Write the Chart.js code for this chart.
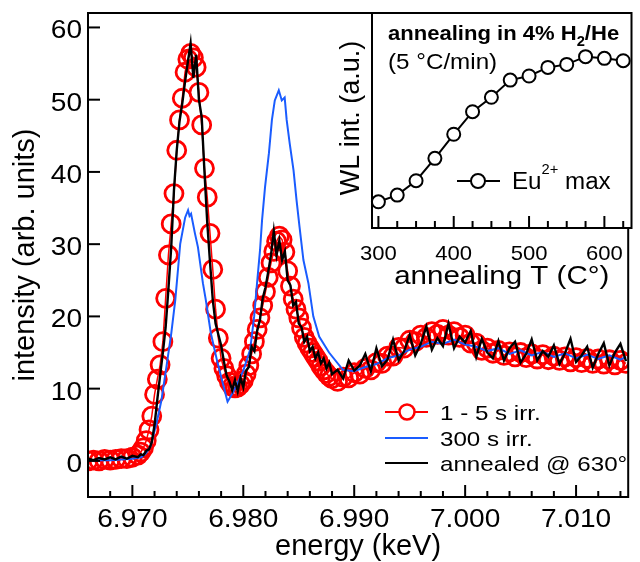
<!DOCTYPE html>
<html>
<head>
<meta charset="utf-8">
<script src="https://cdn.jsdelivr.net/npm/chart.js@4.4.1/dist/chart.umd.min.js"></script>
<style>
  body { margin: 0; background: #fff; }
  #wrap { position: relative; width: 640px; height: 562px; background: #fff; }
  canvas { position: absolute; top: 0; }
</style>
</head>
<body>
<div id="wrap">
  <canvas id="main" width="640" height="562" style="left:0"></canvas>
  <canvas id="inset" width="340" height="300" style="left:300px"></canvas>
</div>
<script>
// energy grid (keV) shared by the red and black spectra
const energy = [
  6.9660, 6.9665, 6.9670, 6.9675, 6.9680, 6.9685, 6.9690, 6.9695, 6.9700, 6.9705,
  6.97075, 6.9710, 6.97125, 6.9715, 6.97175, 6.9720, 6.97225, 6.9725, 6.97275, 6.9730,
  6.97325, 6.9735, 6.97375, 6.9740, 6.97425, 6.9745, 6.97475, 6.9750, 6.97525, 6.9755,
  6.97575, 6.9760, 6.97625, 6.9765, 6.97675, 6.9770, 6.97725, 6.9775, 6.97775, 6.9780,
  6.97825, 6.9785, 6.97875, 6.9790, 6.97925, 6.9795, 6.97975, 6.9800, 6.98025, 6.9805,
  6.98075, 6.9810, 6.98125, 6.9815, 6.98175, 6.9820, 6.98225, 6.9825, 6.98275, 6.9830,
  6.98325, 6.9835, 6.98375, 6.9840, 6.98425, 6.9845, 6.98475, 6.9850, 6.98525, 6.9855,
  6.98575, 6.9860, 6.98625, 6.9865, 6.98675, 6.9870, 6.98725, 6.9875, 6.98775, 6.9880,
  6.9885, 6.9890, 6.9895, 6.9900, 6.9905, 6.9910, 6.9915, 6.9920, 6.9925, 6.9930,
  6.9935, 6.9940, 6.9945, 6.9950, 6.9955, 6.9960, 6.9965, 6.9970, 6.9975, 6.9980,
  6.9985, 6.9990, 6.9995, 7.0000, 7.0005, 7.0010, 7.0015, 7.0020, 7.0025, 7.0030,
  7.0035, 7.0040, 7.0045, 7.0050, 7.0055, 7.0060, 7.0065, 7.0070, 7.0075, 7.0080,
  7.0085, 7.0090, 7.0095, 7.0100, 7.0105, 7.0110, 7.0115, 7.0120, 7.0125, 7.0130,
  7.0135, 7.0140, 7.0145
];

// 1 - 5 s irr. (red circles)
const irrShort = [
  0.0, 0.1, 0.0, 0.2, 0.1, 0.2, 0.3, 0.3, 0.5, 0.8,
  1.2, 1.8, 2.8, 4.3, 6.2, 9.2, 11.3, 13.3, 16.5, 22.5,
  28.5, 32.8, 37.0, 43.0, 47.2, 50.2, 53.8, 55.6, 56.4, 55.8,
  54.5, 51.0, 46.5, 40.5, 36.5, 31.5, 26.5, 21.0, 17.0, 14.2,
  12.8, 11.8, 10.9, 10.3, 10.1, 10.2, 10.6, 11.1, 12.0, 13.2,
  14.8, 16.5, 18.2, 19.8, 21.5, 23.4, 25.4, 27.4, 29.0, 30.4,
  31.1, 30.6, 28.9, 26.3, 24.2, 22.4, 21.0, 19.8, 18.4, 17.1,
  16.3, 15.6, 15.0, 14.4, 13.8, 13.1, 12.6, 12.1, 11.7, 11.4,
  11.0, 11.6, 11.5, 12.2, 12.0, 12.8, 12.6, 13.6, 13.5, 14.5,
  14.5, 15.7, 15.6, 16.7, 16.5, 17.4, 17.1, 17.9, 17.5, 18.2,
  17.4, 17.9, 17.1, 17.4, 16.3, 16.3, 15.3, 15.6, 14.9, 15.3,
  14.6, 15.1, 14.4, 15.0, 14.3, 14.8, 14.1, 14.7, 14.0, 14.5,
  13.9, 14.4, 13.7, 14.3, 13.6, 14.2, 13.5, 14.1, 13.4, 14.0,
  13.3, 13.9, 13.5
];

// annealed @ 630° (black)
const annealed = [
  0.3, 0.1, 0.4, 0.2, 0.5, 0.2, 0.6, 0.3, 0.7, 0.5,
  0.9, 0.8, 1.4, 1.6, 2.6, 5.0, 8.5, 11.8, 15.0, 18.5,
  23.8, 29.5, 37.5, 43.0, 47.0, 49.5, 52.5, 55.2, 57.8, 53.0,
  56.2, 50.0, 47.6, 40.0, 33.0, 27.5, 22.3, 19.0, 17.5, 16.0,
  13.8, 11.8, 11.0, 9.8, 11.2, 9.6, 11.5, 10.2, 12.5, 13.0,
  15.8, 15.2, 18.0, 19.5, 22.5, 24.0, 26.2, 28.5, 31.8, 28.5,
  30.5, 27.8, 29.0, 25.0, 24.3, 21.5, 22.0, 19.0, 18.5, 16.5,
  17.2, 15.2, 15.8, 14.2, 15.0, 13.5, 14.2, 12.8, 13.6, 12.0,
  12.6, 11.4, 13.9, 12.5, 13.2, 14.8, 12.4, 15.6, 13.1, 14.0,
  16.8, 13.9, 15.2, 17.4, 14.6, 16.2, 18.6, 15.4, 17.0, 15.9,
  19.0, 15.6, 17.2, 16.4, 18.0, 14.4, 16.9, 15.0, 14.2, 16.6,
  13.9, 15.6, 16.5, 13.6, 14.8, 16.8, 13.9, 15.2, 14.4, 16.0,
  13.4, 14.9, 16.9, 13.7, 14.6, 15.8, 12.9, 14.8, 16.3, 13.2,
  15.0, 16.2, 13.8
];

// 300 s irr. (blue), its own energy points
const energyBlue = [
  6.9660, 6.9680, 6.9700, 6.9708, 6.9712, 6.97164, 6.97218, 6.97262, 6.97307, 6.97351,
  6.97387, 6.97413, 6.97431, 6.97476, 6.97502, 6.97515, 6.97529, 6.97564, 6.97591, 6.97636,
  6.97662, 6.97707, 6.97769, 6.97831, 6.97858, 6.9790, 6.9795, 6.9800, 6.98062, 6.98098,
  6.98124, 6.98151, 6.98169, 6.98196, 6.98231, 6.98258, 6.98284, 6.9832, 6.98347, 6.98373,
  6.98391, 6.98418, 6.98453, 6.9848, 6.98507, 6.98542, 6.98587, 6.98631, 6.98684, 6.98773,
  6.98898, 6.9900, 6.9910, 6.9920, 6.9930, 6.9940, 6.9950, 6.9960, 6.9970, 6.9980,
  6.9990, 7.0000, 7.0010, 7.0020, 7.0030, 7.0040, 7.0050, 7.0060, 7.0070, 7.0080,
  7.0090, 7.0100, 7.0110, 7.0120, 7.0130, 7.0140, 7.0145
];
const irrLong = [
  0.1, 0.1, 0.3, 0.5, 1.0, 2.0, 5.2, 8.4, 13.0, 17.7,
  22.3, 26.8, 30.0, 33.7, 34.7, 33.9, 34.2, 31.5, 29.6, 24.6,
  22.3, 17.7, 13.5, 9.8, 8.2, 9.3, 10.8, 12.5, 15.4, 20.0,
  24.6, 29.2, 33.3, 37.9, 42.6, 47.2, 49.9, 51.3, 49.9, 50.3,
  47.2, 44.0, 40.2, 36.1, 32.4, 27.8, 24.6, 20.0, 17.2, 15.0,
  12.6, 12.4, 13.0, 13.4, 14.2, 14.6, 15.4, 15.8, 16.5, 16.2,
  16.8, 16.1, 15.8, 15.2, 15.6, 14.8, 15.3, 14.6, 15.1, 14.4,
  14.9, 14.2, 14.7, 14.1, 14.6, 14.0, 14.4
];

const seriesLabels = ['1 - 5 s irr.', '300 s irr.', 'annealed @ 630°'];
const xMajorTicks = [6.970, 6.980, 6.990, 7.000, 7.010];
const xMinorTicks = [6.966, 6.968, 6.970, 6.972, 6.974, 6.976, 6.978, 6.980, 6.982, 6.984,
  6.986, 6.988, 6.990, 6.992, 6.994, 6.996, 6.998, 7.000, 7.002, 7.004, 7.006, 7.008,
  7.010, 7.012, 7.014];
const yTicks = [0, 10, 20, 30, 40, 50, 60];

// inset: WL intensity vs annealing temperature
const annealT = [300, 325, 350, 375, 400, 425, 450, 475, 500, 525, 550, 575, 600, 625];
const wlInt = [12.2, 15.3, 22.0, 32.4, 43.6, 54.1, 60.8, 68.8, 70.7, 74.7, 76.1, 79.7, 78.9, 77.8];
const insetMajorTicks = [300, 400, 500, 600];
const insetMinorTicks = [300, 325, 350, 375, 400, 425, 450, 475, 500, 525, 550, 575, 600, 625];

const FONT = '"Liberation Sans", Arial, Helvetica, sans-serif';
Chart.defaults.font.family = FONT;
Chart.defaults.color = '#000';

const pts = (xs, ys) => xs.map((x, i) => ({ x: x, y: ys[i] }));

function line(ctx, x1, y1, x2, y2) {
  ctx.beginPath();
  ctx.moveTo(x1, y1);
  ctx.lineTo(x2, y2);
  ctx.stroke();
}

// text with optional horizontal stretch and rotation, baseline at (x, y)
function label(ctx, str, x, y, font, align, sx, rot) {
  ctx.save();
  ctx.translate(x, y);
  if (rot) ctx.rotate(rot);
  ctx.scale(sx || 1, 1);
  ctx.font = font;
  ctx.textAlign = align;
  ctx.textBaseline = 'alphabetic';
  ctx.fillStyle = '#000';
  ctx.fillText(str, 0, 0);
  ctx.restore();
}

// frame, inward ticks, tick labels, axis titles and legend of the main plot
const mainDeco = {
  id: 'mainDeco',
  afterDraw(chart) {
    const { ctx, chartArea: a, scales: { x, y } } = chart;
    ctx.save();
    ctx.strokeStyle = '#000';
    ctx.lineWidth = 2;
    ctx.strokeRect(a.left, a.top, a.right - a.left, a.bottom - a.top);
    xMinorTicks.forEach(v => {
      const px = x.getPixelForValue(v);
      const major = xMajorTicks.some(m => Math.abs(m - v) < 1e-6);
      line(ctx, px, a.bottom, px, a.bottom - (major ? 12 : 6));
    });
    yTicks.forEach(v => {
      const py = y.getPixelForValue(v);
      line(ctx, a.left, py, a.left + 12, py);
    });

    const tickFont = '26px ' + FONT;
    xMajorTicks.forEach(v => label(ctx, v.toFixed(3), x.getPixelForValue(v), 527, tickFont, 'center', 1.08));
    yTicks.forEach(v => label(ctx, String(v), 82, y.getPixelForValue(v) + 11, tickFont, 'right', 1.08));

    label(ctx, 'energy (keV)', (a.left + a.right) / 2, 555, '29px ' + FONT, 'center', 1);
    label(ctx, 'intensity (arb. units)', 34, (a.top + a.bottom) / 2, '29px ' + FONT, 'center', 1, -Math.PI / 2);

    // legend
    const rows = [412, 438, 463];
    const colors = ['#ff0000', '#1a5cff', '#000000'];
    rows.forEach((ry, i) => {
      ctx.strokeStyle = colors[i];
      ctx.lineWidth = 2;
      line(ctx, 385, ry, 428, ry);
      if (i === 0) {
        ctx.beginPath();
        ctx.arc(407, ry, 7.5, 0, Math.PI * 2);
        ctx.fillStyle = '#fff';
        ctx.fill();
        ctx.lineWidth = 2.5;
        ctx.stroke();
      }
      label(ctx, seriesLabels[i], 440, ry + 7.5, '21px ' + FONT, 'left', 1.15);
    });
    ctx.restore();
  }
};

new Chart(document.getElementById('main'), {
  type: 'line',
  data: {
    datasets: [
      {
        label: seriesLabels[0],
        data: pts(energy, irrShort),
        borderColor: '#ff0000',
        borderWidth: 1.5,
        pointRadius: 9,
        pointBorderWidth: 2.8,
        pointBorderColor: '#ff0000',
        pointBackgroundColor: 'rgba(0,0,0,0)',
        clip: 0,
        order: 3
      },
      {
        label: seriesLabels[1],
        data: pts(energyBlue, irrLong),
        borderColor: '#1a5cff',
        borderWidth: 2,
        pointRadius: 0,
        clip: 0,
        order: 2
      },
      {
        label: seriesLabels[2],
        data: pts(energy, annealed),
        borderColor: '#000000',
        borderWidth: 2.4,
        pointRadius: 0,
        clip: 0,
        order: 1
      }
    ]
  },
  options: {
    responsive: false,
    animation: false,
    events: [],
    layout: { padding: { top: 13, right: 4, left: 0, bottom: 0 } },
    plugins: { legend: { display: false }, tooltip: { enabled: false } },
    scales: {
      x: {
        type: 'linear',
        min: 6.966,
        max: 7.0147,
        grid: { display: false, drawTicks: false },
        border: { display: false },
        ticks: { display: false },
        afterFit: s => { s.height = 65; }
      },
      y: {
        type: 'linear',
        min: -5,
        max: 62,
        grid: { display: false, drawTicks: false },
        border: { display: false },
        ticks: { display: false },
        afterFit: s => { s.width = 88; }
      }
    }
  },
  plugins: [mainDeco]
});

// inset decorations
const insetDeco = {
  id: 'insetDeco',
  beforeDraw(chart) {
    const { ctx, chartArea: a } = chart;
    ctx.save();
    ctx.fillStyle = '#fff';
    ctx.fillRect(a.left, a.top, a.right - a.left, a.bottom - a.top);
    ctx.restore();
  },
  afterDraw(chart) {
    const { ctx, chartArea: a, scales: { x } } = chart;
    ctx.save();
    ctx.strokeStyle = '#000';
    ctx.lineWidth = 2;
    ctx.strokeRect(a.left, a.top, a.right - a.left, a.bottom - a.top);
    insetMinorTicks.forEach(v => {
      const px = x.getPixelForValue(v);
      const major = insetMajorTicks.includes(v);
      line(ctx, px, a.bottom, px, a.bottom - (major ? 12 : 7));
    });
    insetMajorTicks.forEach(v => label(ctx, String(v), x.getPixelForValue(v), 260, '21px ' + FONT, 'center', 1.05));

    label(ctx, 'annealing T (C°)', (a.left + a.right) / 2, 284, '25px ' + FONT, 'center', 1.18);
    label(ctx, 'WL int. (a.u.)', 59, 118, '27px ' + FONT, 'center', 1, -Math.PI / 2);

    // header text
    let tx = 88;
    const hdr = 'bold 21px ' + FONT;
    ctx.font = hdr;
    label(ctx, 'annealing in 4% H', tx, 40, hdr, 'left', 1.05);
    tx += ctx.measureText('annealing in 4% H').width * 1.05;
    ctx.font = 'bold 14px ' + FONT;
    label(ctx, '2', tx, 46, 'bold 14px ' + FONT, 'left', 1.05);
    tx += ctx.measureText('2').width * 1.05;
    label(ctx, '/He', tx, 40, hdr, 'left', 1.05);
    label(ctx, '(5 °C/min)', 88, 69, '22px ' + FONT, 'left', 1.1);

    // legend
    ctx.strokeStyle = '#000';
    ctx.lineWidth = 2;
    line(ctx, 157, 181, 200, 181);
    ctx.beginPath();
    ctx.arc(178, 181, 7, 0, Math.PI * 2);
    ctx.fillStyle = '#fff';
    ctx.fill();
    ctx.stroke();
    const lf = '23px ' + FONT;
    let lx = 212;
    ctx.font = lf;
    label(ctx, 'Eu', lx, 189, lf, 'left', 1.05);
    lx += ctx.measureText('Eu').width * 1.05;
    ctx.font = '14px ' + FONT;
    label(ctx, '2+', lx, 174, '14px ' + FONT, 'left', 1.05);
    lx += ctx.measureText('2+').width * 1.05;
    ctx.font = lf;
    label(ctx, ' max', lx, 189, lf, 'left', 1.05);
    ctx.restore();
  }
};

new Chart(document.getElementById('inset'), {
  type: 'line',
  data: {
    datasets: [{
      label: 'Eu2+ max',
      data: pts(annealT, wlInt),
      borderColor: '#000',
      borderWidth: 2,
      pointRadius: 6.5,
      pointBorderWidth: 2,
      pointBorderColor: '#000',
      pointBackgroundColor: '#fff',
      clip: false
    }]
  },
  options: {
    responsive: false,
    animation: false,
    events: [],
    layout: { padding: { top: 13, right: 4, left: 0, bottom: 0 } },
    plugins: { legend: { display: false }, tooltip: { enabled: false } },
    scales: {
      x: {
        type: 'linear',
        min: 291.5,
        max: 636,
        grid: { display: false, drawTicks: false },
        border: { display: false },
        ticks: { display: false },
        afterFit: s => { s.height = 72; }
      },
      y: {
        type: 'linear',
        min: 0,
        max: 100,
        grid: { display: false, drawTicks: false },
        border: { display: false },
        ticks: { display: false },
        afterFit: s => { s.width = 72; }
      }
    }
  },
  plugins: [insetDeco]
});
</script>
</body>
</html>
